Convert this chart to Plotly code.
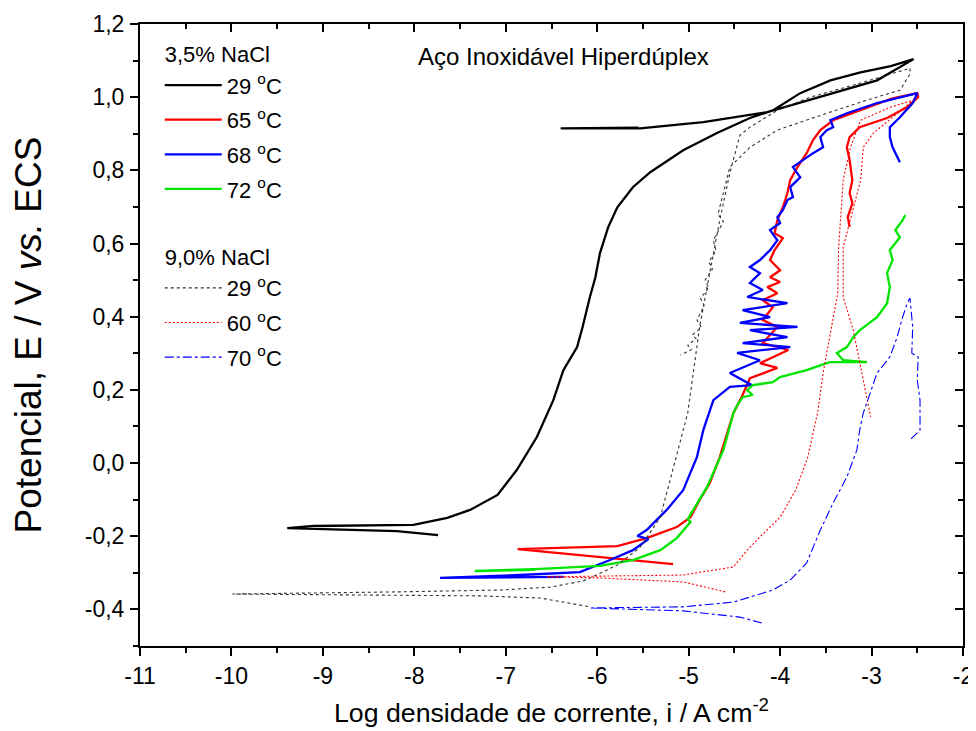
import plotly.graph_objects as go

# ---------------- data (log i, E) ----------------
# 3,5 % NaCl
x35_29 = [-7.74, -8.19, -9.39, -9.10, -8.01, -7.64, -7.39, -7.09, -6.88, -6.66, -6.48, -6.37, -6.22, -6.16,
          -6.08, -6.02, -5.97, -5.88, -5.78, -5.61, -5.42, -5.06, -4.69, -4.33, -4.08, -3.78, -3.45, -3.12,
          -2.79, -2.54, -2.94, -3.78, -4.14, -4.84, -5.53, -6.40, -5.55]
y35_29 = [-0.197, -0.186, -0.178, -0.172, -0.169, -0.150, -0.128, -0.087, -0.019, 0.071, 0.172, 0.254, 0.317, 0.372,
          0.454, 0.508, 0.574, 0.645, 0.699, 0.754, 0.795, 0.855, 0.902, 0.943, 0.964, 1.011, 1.046, 1.068,
          1.085, 1.104, 1.046, 0.984, 0.959, 0.932, 0.915, 0.915, 0.917]

x35_65 = [-5.17, -6.87, -5.78, -5.46, -5.13, -4.98, -4.88, -4.77, -4.66, -4.51, -4.41, -4.33, -4.03, -4.22,
          -3.91, -4.19, -4.03, -4.19, -4.08, -4.19, -4.03, -4.14, -4.00, -4.11, -4.00, -4.11, -4.06, -3.97,
          -4.06, -4.03, -3.97, -3.92, -3.89, -3.81, -3.71, -3.64, -3.56, -3.42, -3.13, -2.77, -2.50, -2.49,
          -2.61, -2.83, -3.13, -3.24, -3.27, -3.24, -3.21, -3.24, -3.21, -3.26, -3.24]
y35_65 = [-0.276, -0.235, -0.227, -0.205, -0.175, -0.148, -0.101, -0.055, 0.016, 0.137, 0.186, 0.232, 0.260, 0.273,
          0.309, 0.328, 0.372, 0.391, 0.426, 0.445, 0.464, 0.481, 0.495, 0.508, 0.527, 0.555, 0.582, 0.615,
          0.628, 0.664, 0.699, 0.738, 0.773, 0.809, 0.847, 0.883, 0.910, 0.937, 0.964, 0.997, 1.011, 1.000,
          0.973, 0.943, 0.918, 0.891, 0.863, 0.828, 0.773, 0.738, 0.710, 0.672, 0.645]

x35_68 = [-6.37, -7.72, -6.84, -6.19, -5.86, -5.61, -5.44, -5.56, -5.46, -5.24, -5.06, -4.91, -4.84, -4.73,
          -4.55, -4.31, -4.55, -4.22, -4.47, -3.89, -4.41, -3.92, -4.33, -3.81, -4.44, -4.11, -4.41, -3.92,
          -4.36, -4.19, -4.33, -4.22, -4.33, -4.22, -4.11, -4.03, -4.11, -4.00, -4.03, -3.97, -3.92, -3.86,
          -3.89, -3.78, -3.86, -3.75, -3.64, -3.53, -3.56, -3.49, -3.42, -3.45, -3.27, -2.94, -2.50, -2.55,
          -2.69, -2.80, -2.80, -2.77, -2.72, -2.69]
y35_68 = [-0.311, -0.314, -0.306, -0.298, -0.265, -0.238, -0.208, -0.199, -0.183, -0.128, -0.074, 0.016, 0.090, 0.172,
          0.208, 0.213, 0.246, 0.281, 0.301, 0.317, 0.328, 0.344, 0.363, 0.372, 0.383, 0.399, 0.418, 0.437,
          0.454, 0.473, 0.492, 0.519, 0.536, 0.555, 0.582, 0.609, 0.637, 0.656, 0.672, 0.691, 0.719, 0.727,
          0.754, 0.781, 0.809, 0.828, 0.847, 0.863, 0.891, 0.910, 0.918, 0.937, 0.956, 0.984, 1.011, 0.984,
          0.945, 0.918, 0.891, 0.863, 0.836, 0.822]

x35_72 = [-6.68, -7.34, -6.68, -5.97, -5.61, -5.31, -5.13, -4.98, -5.01, -4.95, -4.80, -4.62, -4.51, -4.47,
          -4.41, -4.30, -4.36, -4.30, -4.08, -4.00, -3.71, -3.49, -3.45, -3.05, -3.31, -3.38, -3.27, -3.20,
          -3.13, -2.94, -2.83, -2.80, -2.83, -2.77, -2.80, -2.69, -2.74, -2.66, -2.63]
y35_72 = [-0.292, -0.295, -0.290, -0.281, -0.265, -0.238, -0.205, -0.161, -0.153, -0.128, -0.066, 0.036, 0.137, 0.158,
          0.180, 0.186, 0.199, 0.213, 0.221, 0.235, 0.254, 0.273, 0.276, 0.276, 0.281, 0.301, 0.317, 0.344,
          0.363, 0.399, 0.437, 0.481, 0.519, 0.555, 0.582, 0.617, 0.637, 0.664, 0.678]

# 9,0 % NaCl
x90_29 = [-6.10, -6.62, -7.28, -8.16, -9.99, -8.16, -7.06, -6.51, -6.15, -5.78, -5.53, -5.31, -5.12, -5.01,
          -4.95, -4.88, -4.77, -4.66, -4.55, -4.44, -4.33, -4.03, -3.67, -3.13, -2.58, -2.58, -2.69, -3.05,
          -3.49, -4.03, -4.33, -4.55, -4.64, -4.68, -4.62, -4.73, -4.70, -4.78, -4.74, -4.82, -4.78, -4.87,
          -4.83, -4.91, -4.86, -4.96, -4.92, -5.01, -4.97, -5.09]
y90_29 = [-0.392, -0.369, -0.363, -0.361, -0.358, -0.352, -0.347, -0.339, -0.322, -0.279, -0.230, -0.148, 0.030, 0.137,
          0.246, 0.372, 0.519, 0.664, 0.792, 0.896, 0.918, 0.964, 1.000, 1.038, 1.079, 1.063, 1.019, 0.992,
          0.956, 0.910, 0.863, 0.809, 0.719, 0.680, 0.660, 0.609, 0.580, 0.550, 0.530, 0.500, 0.480, 0.450,
          0.430, 0.391, 0.370, 0.350, 0.340, 0.322, 0.310, 0.295]

x90_60 = [-4.60, -5.06, -5.97, -6.55, -5.97, -5.06, -4.51, -4.36, -4.22, -4.00, -3.83, -3.70, -3.59, -3.53,
          -3.45, -3.37, -3.36, -3.31, -3.23, -3.12, -2.79, -2.54, -2.98, -3.09, -3.12, -3.31, -3.31, -3.20,
          -3.09, -3.01]
y90_60 = [-0.352, -0.325, -0.314, -0.311, -0.309, -0.306, -0.284, -0.238, -0.202, -0.148, -0.074, 0.014, 0.137, 0.246,
          0.355, 0.464, 0.590, 0.773, 0.863, 0.937, 0.973, 0.992, 0.902, 0.863, 0.773, 0.590, 0.454, 0.363,
          0.227, 0.126]

x90_70 = [-4.20, -4.44, -5.06, -6.08, -5.06, -4.51, -4.08, -3.89, -3.71, -3.56, -3.42, -3.27, -3.16, -3.13,
          -3.09, -3.02, -2.94, -2.80, -2.72, -2.67, -2.61, -2.58, -2.55, -2.56, -2.49, -2.50, -2.47, -2.47,
          -2.58]
y90_70 = [-0.437, -0.421, -0.404, -0.396, -0.393, -0.380, -0.347, -0.320, -0.273, -0.183, -0.109, -0.038, 0.036, 0.090,
          0.137, 0.191, 0.246, 0.290, 0.344, 0.391, 0.437, 0.451, 0.372, 0.300, 0.290, 0.227, 0.172, 0.090,
          0.063]

labels35 = ["29 <sup>o</sup>C", "65 <sup>o</sup>C", "68 <sup>o</sup>C", "72 <sup>o</sup>C"]
labels90 = ["29 <sup>o</sup>C", "60 <sup>o</sup>C", "70 <sup>o</sup>C"]
group35 = "3,5% NaCl"
group90 = "9,0% NaCl"

xtickvals = [-11, -10, -9, -8, -7, -6, -5, -4, -3, -2]
xticktext = ["-11", "-10", "-9", "-8", "-7", "-6", "-5", "-4", "-3", "-2"]
ytickvals = [-0.4, -0.2, 0.0, 0.2, 0.4, 0.6, 0.8, 1.0, 1.2]
yticktext = ["-0,4", "-0,2", "0,0", "0,2", "0,4", "0,6", "0,8", "1,0", "1,2"]

FONT = "Liberation Sans, Arial, sans-serif"
LEGFONT = 22

fig = go.Figure()

solid = [(x35_29, y35_29, "black"), (x35_65, y35_65, "#ff0000"),
         (x35_68, y35_68, "#0000ff"), (x35_72, y35_72, "#00e600")]
for i, ((xs, ys, c), lab) in enumerate(zip(solid, labels35)):
    fig.add_trace(go.Scatter(x=xs, y=ys, mode="lines", name=lab,
                             line=dict(color=c, width=2.3),
                             legend="legend", legendgroup=f"a{i}", legendrank=i,
                             legendgrouptitle=dict(text=group35 if i == 0 else "",
                                                   font=dict(size=LEGFONT, family=FONT, color="black"))))

dashed = [(x90_29, y90_29, "#333333", "dot"), (x90_60, y90_60, "#ff0000", "2px,2px"),
          (x90_70, y90_70, "#0000ff", "dashdot")]
for i, ((xs, ys, c, d), lab) in enumerate(zip(dashed, labels90)):
    fig.add_trace(go.Scatter(x=xs, y=ys, mode="lines", name=lab,
                             line=dict(color=c, width=1.1, dash=d),
                             legend="legend2", legendgroup=f"b{i}", legendrank=i,
                             legendgrouptitle=dict(text=group90 if i == 0 else "",
                                                   font=dict(size=LEGFONT, family=FONT, color="black"))))

# mirrored top/right axes with inward ticks
fig.add_trace(go.Scatter(x=[None], y=[None], xaxis="x2", yaxis="y2", showlegend=False, hoverinfo="skip"))

common = dict(showgrid=False, zeroline=False, linecolor="black", linewidth=2,
              ticklen=8, tickwidth=2, tickcolor="black", automargin=False)
legcommon = dict(xanchor="left", yanchor="top", bgcolor="rgba(0,0,0,0)",
                 font=dict(size=LEGFONT, family=FONT), itemwidth=57, tracegroupgap=3,
                 traceorder="grouped")
fig.update_layout(
    width=968, height=723,
    margin=dict(l=132, r=13, t=16, b=85),
    paper_bgcolor="white", plot_bgcolor="white",
    font=dict(family=FONT, size=22, color="black"),
    showlegend=True,
    legend=dict(x=0.024, y=0.986, **legcommon),
    legend2=dict(x=0.024, y=0.660, **legcommon),
    xaxis=dict(range=[-11, -2], tickvals=xtickvals, ticktext=xticktext, ticks="outside",
               minor=dict(dtick=0.5, ticks="outside", ticklen=5, tickwidth=2, tickcolor="black"),
               title=dict(text="Log densidade de corrente, i / A cm<sup>-2</sup>", font=dict(size=26.7), standoff=16),
               tickfont=dict(size=23), **common),
    yaxis=dict(range=[-0.5, 1.2], tickvals=ytickvals, ticktext=yticktext, ticks="outside",
               minor=dict(dtick=0.1, ticks="outside", ticklen=5, tickwidth=2, tickcolor="black"),
               title=dict(text="Potencial, E / V <i>vs.</i> ECS", font=dict(size=37), standoff=35),
               tickfont=dict(size=23), ticklabelstandoff=1, **common),
    xaxis2=dict(range=[-11, -2], overlaying="x", side="top", tickvals=xtickvals, showticklabels=False,
                ticks="inside", minor=dict(dtick=0.5, ticks="inside", ticklen=5, tickwidth=2, tickcolor="black"),
                anchor="y", **common),
    yaxis2=dict(range=[-0.5, 1.2], overlaying="y", side="right", tickvals=ytickvals, showticklabels=False,
                ticks="inside", minor=dict(dtick=0.1, ticks="inside", ticklen=5, tickwidth=2, tickcolor="black"),
                anchor="x", **common),
    annotations=[dict(text="Aço Inoxidável Hiperdúplex", x=0.514, y=0.973, xref="paper", yref="paper",
                      xanchor="center", yanchor="top", showarrow=False, font=dict(size=24, family=FONT))],
)

fig.write_html("out.html")
